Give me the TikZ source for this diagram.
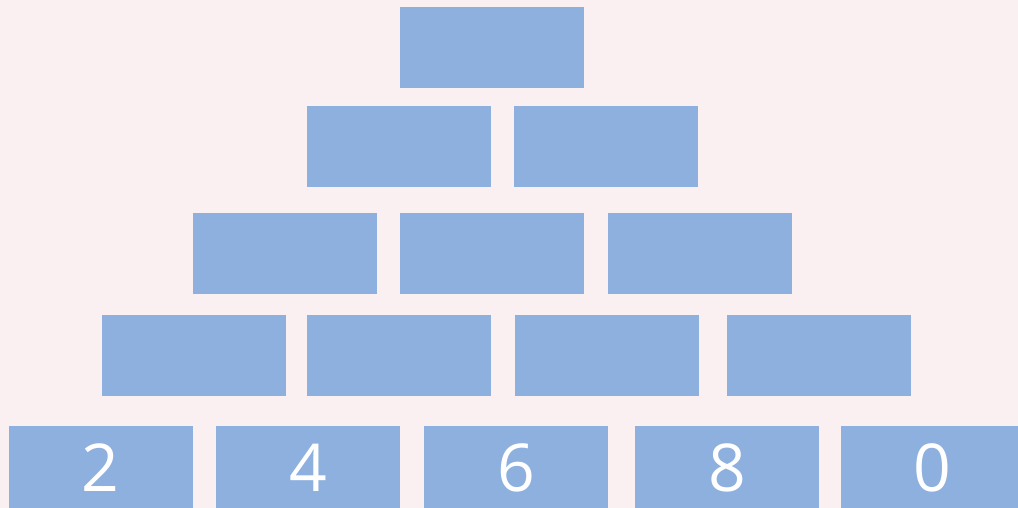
\documentclass[tikz,border=0pt]{standalone}
\usepackage{fontspec}
\setmainfont{Open Sans}
\definecolor{bg}{RGB}{250,240,242}
\definecolor{brick}{RGB}{141,176,222}
\begin{document}
\begin{tikzpicture}[x=1pt,y=-1pt,
  brick/.style={fill=brick,draw=none,minimum width=184pt,minimum height=81pt,inner sep=0pt,anchor=center,
    text=white,font=\fontsize{66}{66}\selectfont}]
\useasboundingbox (0,0) rectangle (1018,508);
\fill[bg] (0,0) rectangle (1018,508);
\clip (0,0) rectangle (1018,508);
% row 1
\node[brick] (r1a) at (492,48) {};
% row 2
\node[brick] (r2a) at (399,146.5) {};
\node[brick] (r2b) at (606,146.5) {};
% row 3
\node[brick] (r3a) at (285,253) {};
\node[brick] (r3b) at (492,253) {};
\node[brick] (r3c) at (700,253) {};
% row 4
\node[brick] (r4a) at (194,355) {};
\node[brick] (r4b) at (399,355) {};
\node[brick] (r4c) at (607,355) {};
\node[brick] (r4d) at (818.5,355) {};
% row 5
\node[brick,minimum height=84pt] (r5a) at (100.6,467.5) {2};
\node[brick,minimum height=84pt] (r5b) at (308,467.5) {4};
\node[brick,minimum height=84pt] (r5c) at (516,467.5) {6};
\node[brick,minimum height=84pt] (r5d) at (727,467.5) {8};
\node[brick,minimum height=84pt] (r5e) at (932.5,467.5) {0};
\end{tikzpicture}
\end{document}
